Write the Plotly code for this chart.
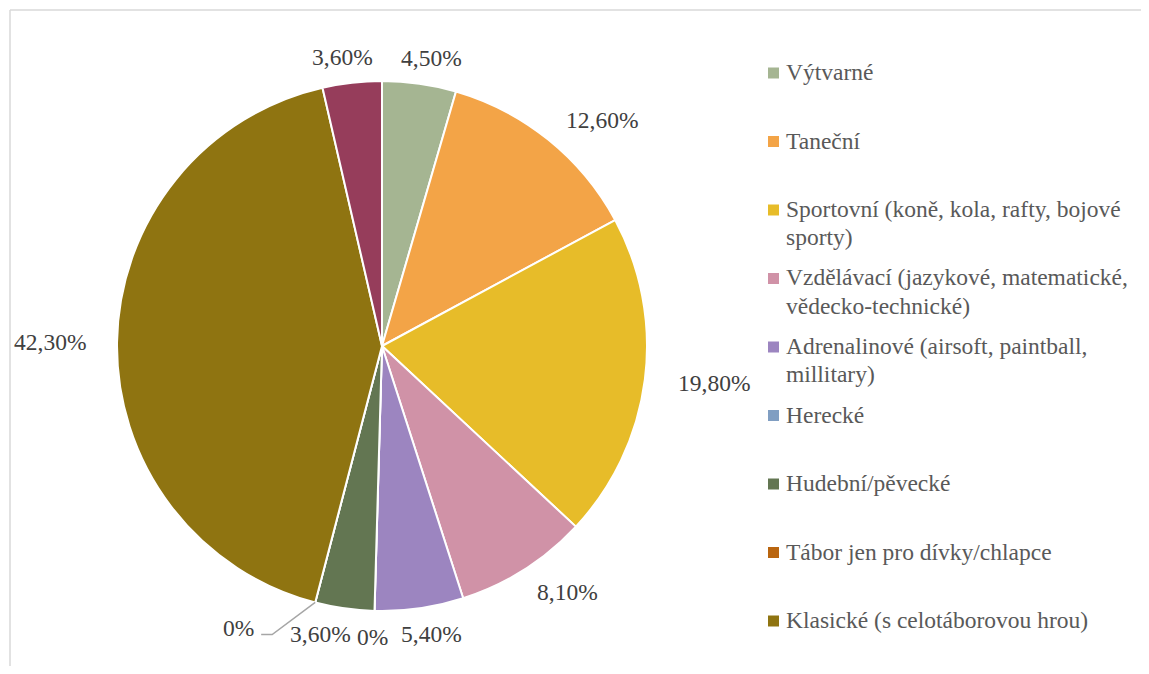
import math
import plotly.graph_objects as go

labels = [
    "Výtvarné",
    "Taneční",
    "Sportovní (koně, kola, rafty, bojové sporty)",
    "Vzdělávací (jazykové, matematické, vědecko-technické)",
    "Adrenalinové (airsoft, paintball, millitary)",
    "Herecké",
    "Hudební/pěvecké",
    "Tábor jen pro dívky/chlapce",
    "Klasické (s celotáborovou hrou)",
    "Jiné",
]
legend_lines = [
    ["Výtvarné"],
    ["Taneční"],
    ["Sportovní (koně, kola, rafty, bojové", "sporty)"],
    ["Vzdělávací (jazykové, matematické,", "vědecko-technické)"],
    ["Adrenalinové (airsoft, paintball,", "millitary)"],
    ["Herecké"],
    ["Hudební/pěvecké"],
    ["Tábor jen pro dívky/chlapce"],
    ["Klasické (s celotáborovou hrou)"],
]
values = [4.5, 12.6, 19.8, 8.1, 5.4, 0, 3.6, 0, 42.3, 3.6]
colors = ["#a5b592", "#f3a447", "#e7bc29", "#d092a7", "#9c85c0",
          "#809ec2", "#637652", "#b9650f", "#8f7411", "#963d5b"]


def fmt(v):
    return "0%" if v == 0 else f"{v:.2f}".replace(".", ",") + "%"


texts = [fmt(v) for v in values]

# page has an 8px body margin; figure sized to fit the window exactly
OFF = 8
W, H = 1149 - 2 * OFF, 674 - 2 * OFF
FS = 23.5
FONT = "Liberation Serif"

# pie geometry in screen pixels
cx, cy, r = 382, 346, 265


def px(sx):
    return (sx - OFF) / W


def py(sy):
    return 1 - (sy - OFF) / H


fig = go.Figure(go.Pie(
    labels=labels, values=values, text=texts,
    textinfo="none", hoverinfo="label+text",
    sort=False, direction="clockwise", rotation=0,
    marker=dict(colors=colors, line=dict(color="white", width=2)),
    showlegend=False,
    domain=dict(x=[px(cx - r), px(cx + r)], y=[py(cy + r), py(cy - r)]),
))


def text_width(t):
    w = 0
    for ch in t:
        w += 0.25 if ch == "," else (0.833 if ch == "%" else 0.5)
    return w * FS


# data-label placement (Excel "best fit"-like)
total = sum(values)
gx, gy, hh, diag = 30, 14, 12, 12
cum = 0
lab = []
for i, v in enumerate(values):
    mid = math.radians((cum + v / 2) / total * 360)
    cum += v
    s, c = math.sin(mid), math.cos(mid)
    hw = text_width(texts[i]) / 2
    x = cx + s * (r + gx + hw) + math.copysign(diag * abs(math.sin(2 * mid)), s)
    y = cy - c * (r + gy + hh)
    lab.append(dict(i=i, ang=mid, x=x, y=y, hw=hw, leader=False))

# resolve overlaps in bottom half (labels going right->left)
bottom = sorted([d for d in lab if math.pi / 2 < d["ang"] < 3 * math.pi / 2], key=lambda d: d["ang"])
gap = 6
for k in range(1, len(bottom)):
    cur = bottom[k]
    for prev in bottom[:k]:
        if abs(cur["y"] - prev["y"]) < 24:
            lim = prev["x"] - prev["hw"] - gap
            if cur["x"] + cur["hw"] > lim:
                shift = cur["x"] + cur["hw"] - lim
                cur["x"] -= shift
                if shift > 20:
                    cur["leader"] = True
                    cur["x"] -= 30

annotations = []
shapes = [
    dict(type="line", xref="paper", yref="paper", x0=px(10), x1=1, y0=py(10), y1=py(10),
         line=dict(color="#d9d9d9", width=1.5)),
    dict(type="line", xref="paper", yref="paper", x0=px(10), x1=px(10), y0=py(10), y1=0,
         line=dict(color="#d9d9d9", width=1.5)),
]
for d in lab:
    annotations.append(dict(x=px(d["x"]), y=py(d["y"]), xref="paper", yref="paper",
                            text=texts[d["i"]], showarrow=False, xanchor="center", yanchor="middle",
                            font=dict(family=FONT, size=FS, color="#404040")))
    if d["leader"]:
        ex = cx + r * math.sin(d["ang"])
        ey = cy - r * math.cos(d["ang"])
        x1 = d["x"] + d["hw"] + 18
        x2 = d["x"] + d["hw"] + 7
        yl = d["y"] + 7
        shapes.append(dict(type="path", xref="paper", yref="paper",
                           path=f"M {px(ex)},{py(ey)} L {px(x1)},{py(yl)} L {px(x2)},{py(yl)}",
                           line=dict(color="#a6a6a6", width=1.5)))

# legend drawn manually (slot layout like the original)
sq = 11
for k, (lines, col) in enumerate(zip(legend_lines, colors)):
    yc = 73 + k * 68.5
    shapes.append(dict(type="rect", xref="paper", yref="paper",
                       x0=px(768), x1=px(768 + sq), y0=py(yc + sq / 2), y1=py(yc - sq / 2),
                       line=dict(width=0), fillcolor=col))
    for j, line in enumerate(lines):
        annotations.append(dict(x=px(784), y=py(yc - 1 + j * 28), xref="paper", yref="paper",
                                text=line, showarrow=False, xanchor="left", yanchor="middle",
                                font=dict(family=FONT, size=FS, color="#595959")))

fig.update_layout(
    width=W, height=H, margin=dict(l=0, r=0, t=0, b=0),
    paper_bgcolor="white", plot_bgcolor="white",
    shapes=shapes, annotations=annotations,
)
fig.write_html("out.html")
